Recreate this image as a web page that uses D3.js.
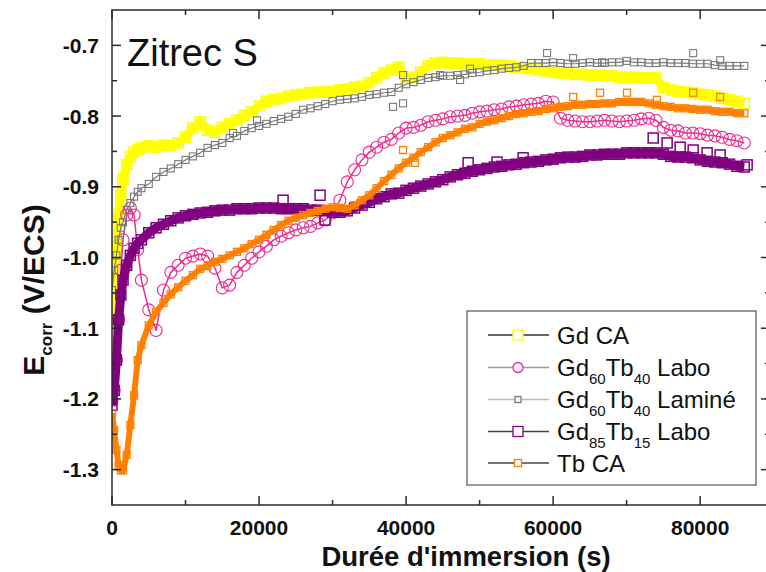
<!DOCTYPE html>
<html><head><meta charset="utf-8">
<script src="https://cdn.jsdelivr.net/npm/d3@7"></script>
<style>body{margin:0;background:#fff;} svg{display:block;font-family:"Liberation Sans",Arial,sans-serif;}</style>
</head><body><svg id="chart" width="766" height="572"></svg>
<script>
// Immersion time (s)
const times = [
  0, 300, 600, 900, 1200, 1500, 2000, 2500, 3000, 3500,
  4000, 5000, 6000, 7000, 8000, 9000, 10000, 11000, 12000, 13000,
  14000, 15000, 16000, 17000, 18000, 19000, 20000, 21000, 22000, 23000,
  24000, 25000, 26000, 27000, 28000, 29000, 30000, 31000, 32000, 33000,
  34000, 35000, 36000, 37000, 38000, 39000, 40000, 41000, 42000, 43000,
  44000, 45000, 46000, 47000, 48000, 49000, 50000, 51000, 52000, 53000,
  54000, 55000, 56000, 57000, 58000, 59000, 60000, 61000, 62000, 63000,
  64000, 65000, 66000, 67000, 68000, 69000, 70000, 71000, 72000, 73000,
  74000, 75000, 76000, 77000, 78000, 79000, 80000, 81000, 82000, 83000,
  84000, 85000, 86000];

// Ecorr (V/ECS)
const gdCA = [
  -1.107,-1.060,-0.989,-0.940,-0.912,-0.890,-0.869,-0.858,-0.851,-0.848,
  -0.845,-0.842,-0.844,-0.841,-0.842,-0.838,-0.830,-0.817,-0.808,-0.820,
  -0.823,-0.816,-0.811,-0.806,-0.799,-0.794,-0.786,-0.779,-0.777,-0.775,
  -0.772,-0.770,-0.769,-0.767,-0.766,-0.766,-0.765,-0.763,-0.762,-0.759,
  -0.758,-0.753,-0.746,-0.739,-0.735,-0.731,-0.746,-0.745,-0.738,-0.729,
  -0.725,-0.724,-0.725,-0.725,-0.726,-0.726,-0.726,-0.728,-0.728,-0.728,
  -0.729,-0.731,-0.732,-0.733,-0.735,-0.736,-0.738,-0.739,-0.739,-0.741,
  -0.741,-0.742,-0.742,-0.743,-0.743,-0.745,-0.745,-0.745,-0.746,-0.746,
  -0.746,-0.760,-0.763,-0.765,-0.766,-0.767,-0.769,-0.770,-0.772,-0.775,
  -0.777,-0.779,-0.782];

const gd60Tb40Labo = [
  -1.202,-1.188,-1.145,-1.088,-1.018,-0.975,-0.940,-0.930,-0.940,-0.989,
  -1.032,-1.074,-1.103,-1.046,-1.021,-1.011,-1.001,-0.998,-0.995,-0.998,
  -1.015,-1.043,-1.039,-1.021,-1.011,-1.001,-0.992,-0.984,-0.975,-0.970,
  -0.965,-0.961,-0.958,-0.956,-0.951,-0.947,-0.937,-0.919,-0.893,-0.876,
  -0.862,-0.851,-0.844,-0.837,-0.833,-0.824,-0.817,-0.816,-0.813,-0.808,
  -0.806,-0.804,-0.801,-0.800,-0.799,-0.796,-0.794,-0.793,-0.791,-0.790,
  -0.787,-0.786,-0.784,-0.783,-0.782,-0.779,-0.780,-0.803,-0.806,-0.807,
  -0.808,-0.808,-0.807,-0.806,-0.807,-0.808,-0.807,-0.806,-0.804,-0.803,
  -0.806,-0.816,-0.820,-0.821,-0.824,-0.824,-0.825,-0.827,-0.828,-0.830,
  -0.833,-0.835,-0.838];

const gd60Tb40Lamine = [
  -1.046,-1.018,-0.997,-0.975,-0.958,-0.950,-0.933,-0.923,-0.914,-0.907,
  -0.902,-0.896,-0.886,-0.879,-0.874,-0.868,-0.862,-0.857,-0.852,-0.845,
  -0.841,-0.838,-0.831,-0.828,-0.821,-0.817,-0.814,-0.811,-0.807,-0.804,
  -0.801,-0.797,-0.791,-0.789,-0.786,-0.783,-0.779,-0.777,-0.776,-0.775,
  -0.773,-0.770,-0.769,-0.767,-0.766,-0.760,-0.755,-0.752,-0.749,-0.746,
  -0.745,-0.743,-0.743,-0.742,-0.741,-0.739,-0.738,-0.736,-0.735,-0.733,
  -0.732,-0.731,-0.729,-0.725,-0.725,-0.725,-0.724,-0.725,-0.726,-0.726,
  -0.725,-0.724,-0.725,-0.725,-0.724,-0.724,-0.722,-0.724,-0.724,-0.725,
  -0.725,-0.724,-0.725,-0.725,-0.725,-0.726,-0.726,-0.726,-0.728,-0.729,
  -0.729,-0.729,-0.729];

const gd85Tb15Labo = [
  -1.209,-1.188,-1.145,-1.088,-1.053,-1.032,-1.011,-0.997,-0.987,-0.980,
  -0.975,-0.965,-0.958,-0.953,-0.948,-0.944,-0.941,-0.939,-0.937,-0.936,
  -0.934,-0.933,-0.933,-0.931,-0.931,-0.931,-0.930,-0.930,-0.930,-0.931,
  -0.931,-0.931,-0.931,-0.933,-0.933,-0.934,-0.936,-0.936,-0.934,-0.930,
  -0.926,-0.922,-0.917,-0.914,-0.910,-0.909,-0.905,-0.902,-0.899,-0.896,
  -0.893,-0.890,-0.886,-0.883,-0.881,-0.878,-0.876,-0.874,-0.872,-0.871,
  -0.869,-0.868,-0.866,-0.865,-0.864,-0.862,-0.861,-0.859,-0.858,-0.858,
  -0.857,-0.855,-0.855,-0.854,-0.854,-0.854,-0.852,-0.852,-0.852,-0.852,
  -0.852,-0.854,-0.857,-0.858,-0.858,-0.859,-0.862,-0.864,-0.865,-0.866,
  -0.868,-0.871,-0.872];

const tbCA = [
  -1.220,-1.244,-1.272,-1.294,-1.301,-1.301,-1.279,-1.237,-1.195,-1.145,
  -1.124,-1.096,-1.077,-1.064,-1.052,-1.042,-1.033,-1.025,-1.016,-1.012,
  -1.006,-1.002,-0.997,-0.992,-0.987,-0.981,-0.975,-0.968,-0.961,-0.954,
  -0.948,-0.944,-0.940,-0.937,-0.934,-0.931,-0.929,-0.930,-0.931,-0.926,
  -0.919,-0.912,-0.902,-0.892,-0.883,-0.874,-0.866,-0.859,-0.851,-0.844,
  -0.837,-0.831,-0.827,-0.823,-0.818,-0.816,-0.811,-0.808,-0.806,-0.803,
  -0.800,-0.797,-0.796,-0.794,-0.793,-0.790,-0.789,-0.787,-0.786,-0.784,
  -0.784,-0.783,-0.783,-0.782,-0.782,-0.780,-0.780,-0.780,-0.780,-0.782,
  -0.784,-0.786,-0.787,-0.789,-0.789,-0.790,-0.791,-0.791,-0.793,-0.794,
  -0.794,-0.796,-0.796];

// Scattered isolated points visible off the main traces
const lamineScatterT = [16460, 19730, 38230, 39590, 39590, 44630, 47350, 48710, 59180, 62720, 66670, 79050, 82720];
const lamineScatterE = [-0.824, -0.806, -0.787, -0.782, -0.742, -0.742, -0.749, -0.733, -0.711, -0.718, -0.724, -0.711, -0.721];
const gd85ScatterT = [23270, 28300, 28980, 48440, 52380, 55920, 73610, 75510, 77280, 79050, 80950, 82720, 86390];
const gd85ScatterE = [-0.919, -0.912, -0.947, -0.866, -0.865, -0.859, -0.831, -0.838, -0.844, -0.848, -0.852, -0.855, -0.869];
const tbScatterT = [39590, 41220, 62720, 66390, 70050, 74130, 79050, 82720];
const tbScatterE = [-0.848, -0.866, -0.773, -0.767, -0.767, -0.777, -0.767, -0.773];

const xTickValues = [0, 20000, 40000, 60000, 80000];
const xTickLabels = ["0", "20000", "40000", "60000", "80000"];
const xMinorTicks = [10000, 30000, 50000, 70000];
const yTickValues = [-1.3, -1.2, -1.1, -1.0, -0.9, -0.8, -0.7];
const yTickLabels = ["-1.3", "-1.2", "-1.1", "-1.0", "-0.9", "-0.8", "-0.7"];
const yMinorTicks = [-1.25, -1.15, -1.05, -0.95, -0.85, -0.75];

const seriesNames = [
  [["Gd", false], [" CA", false]],
  [["Gd", false], ["60", true], ["Tb", false], ["40", true], [" Labo", false]],
  [["Gd", false], ["60", true], ["Tb", false], ["40", true], [" Laminé", false]],
  [["Gd", false], ["85", true], ["Tb", false], ["15", true], [" Labo", false]],
  [["Tb CA", false]]
];

const svg = d3.select("#chart");
const x = d3.scaleLinear().domain([0, 89500]).range([112, 770]);
const y = d3.scaleLinear().domain([-1.35, -0.65]).range([505, 10]);

svg.append("rect").attr("width", 766).attr("height", 572).attr("fill", "#fff");

const series = [
  {vals: gdCA, color: "#ffff00", shape: "square", size: 10, sw: 1.6, lw: 9, legendLine: "#333", legendSize: 10},
  {vals: gd60Tb40Labo, color: "#ef2a8e", shape: "circle", size: 12, sw: 1.1, lw: 1.5, legendLine: "#999", legendSize: 10},
  {vals: gd60Tb40Lamine, color: "#7a7a7a", shape: "square", size: 7, sw: 1.1, lw: 1.2, legendLine: "#bbb", legendSize: 6,
   scT: lamineScatterT, scE: lamineScatterE},
  {vals: gd85Tb15Labo, color: "#800080", shape: "square", size: 10, sw: 1.5, lw: 9, legendLine: "#444", legendSize: 10,
   scT: gd85ScatterT, scE: gd85ScatterE},
  {vals: tbCA, color: "#ff8000", shape: "square", size: 7, sw: 1.3, lw: 6, legendLine: "#444", legendSize: 7,
   scT: tbScatterT, scE: tbScatterE}
];

svg.append("clipPath").attr("id", "clip").append("rect")
  .attr("x", 112).attr("y", 10).attr("width", 658).attr("height", 495);
const plot = svg.append("g").attr("clip-path", "url(#clip)");

function drawSymbols(g, pts, s, size) {
  if (s.shape === "circle") {
    g.selectAll(null).data(pts).join("circle")
      .attr("cx", d => x(d[0])).attr("cy", d => y(d[1])).attr("r", size / 2)
      .attr("fill", "none").attr("stroke", s.color).attr("stroke-width", s.sw);
  } else {
    g.selectAll(null).data(pts).join("rect")
      .attr("x", d => x(d[0]) - size / 2).attr("y", d => y(d[1]) - size / 2)
      .attr("width", size).attr("height", size)
      .attr("fill", "none").attr("stroke", s.color).attr("stroke-width", s.sw);
  }
}

const line = d3.line().x(d => x(d[0])).y(d => y(d[1]));
series.forEach(s => {
  const pts = times.map((t, i) => [t, s.vals[i]]);
  const g = plot.append("g");
  g.append("path").datum(pts).attr("d", line).attr("fill", "none")
    .attr("stroke", s.color).attr("stroke-width", s.lw).attr("stroke-linejoin", "round");
  drawSymbols(g, pts, s, s.size);
  if (s.scT) {
    const sp = s.scT.map((t, i) => [t, s.scE[i]]);
    drawSymbols(g, sp, s, s.size);
  }
});

// Frame
const axisColor = "#2a2a2a";
svg.append("rect").attr("x", 112).attr("y", 10).attr("width", 658).attr("height", 495)
  .attr("fill", "none").attr("stroke", axisColor).attr("stroke-width", 1.5);

const tk = svg.append("g").attr("stroke", axisColor).attr("stroke-width", 1.5);
xTickValues.forEach(v => {
  tk.append("line").attr("x1", x(v)).attr("x2", x(v)).attr("y1", 505).attr("y2", 496);
  tk.append("line").attr("x1", x(v)).attr("x2", x(v)).attr("y1", 10).attr("y2", 19);
});
xMinorTicks.forEach(v => {
  tk.append("line").attr("x1", x(v)).attr("x2", x(v)).attr("y1", 505).attr("y2", 500);
  tk.append("line").attr("x1", x(v)).attr("x2", x(v)).attr("y1", 10).attr("y2", 15);
});
yTickValues.forEach(v => {
  tk.append("line").attr("x1", 112).attr("x2", 121).attr("y1", y(v)).attr("y2", y(v));
  tk.append("line").attr("x1", 770).attr("x2", 761).attr("y1", y(v)).attr("y2", y(v));
});
yMinorTicks.forEach(v => {
  tk.append("line").attr("x1", 112).attr("x2", 117).attr("y1", y(v)).attr("y2", y(v));
  tk.append("line").attr("x1", 770).attr("x2", 765).attr("y1", y(v)).attr("y2", y(v));
});

// Tick labels
const lab = svg.append("g").attr("font-weight", "bold").attr("fill", "#111");
xTickValues.forEach((v, i) => {
  lab.append("text").attr("x", x(v)).attr("y", 535).attr("font-size", 21)
    .attr("text-anchor", "middle").text(xTickLabels[i]);
});
yTickValues.forEach((v, i) => {
  lab.append("text").attr("x", 99).attr("y", y(v) + 7.5).attr("font-size", 21)
    .attr("text-anchor", "end").text(yTickLabels[i]);
});

// Axis titles
svg.append("text").attr("x", 466).attr("y", 566).attr("text-anchor", "middle")
  .attr("font-weight", "bold").attr("font-size", 27.5).attr("fill", "#111")
  .text("Durée d'immersion (s)");

const yt = svg.append("text").attr("transform", "translate(44,290) rotate(-90)")
  .attr("text-anchor", "middle").attr("font-weight", "bold").attr("font-size", 30).attr("fill", "#111");
yt.append("tspan").text("E");
yt.append("tspan").attr("font-size", 17).attr("dy", 8).text("corr");
yt.append("tspan").attr("dy", -8).text(" (V/ECS)");

// Panel title
svg.append("text").attr("x", 127).attr("y", 66).attr("font-size", 38).attr("fill", "#111").text("Zitrec S");

// Legend
const lg = svg.append("g");
lg.append("rect").attr("x", 467).attr("y", 311).attr("width", 289).attr("height", 174)
  .attr("fill", "#fff").attr("stroke", "#555").attr("stroke-width", 1.2);
const rowY = [335, 367.5, 399.5, 431.5, 463];
series.forEach((s, i) => {
  const cy = rowY[i];
  lg.append("line").attr("x1", 488).attr("x2", 549).attr("y1", cy).attr("y2", cy)
    .attr("stroke", s.legendLine).attr("stroke-width", 1.3);
  const sz = s.legendSize;
  if (s.shape === "circle") {
    lg.append("circle").attr("cx", 518).attr("cy", cy).attr("r", sz / 2)
      .attr("fill", "#fff").attr("stroke", s.color).attr("stroke-width", 1.3);
  } else {
    lg.append("rect").attr("x", 518 - sz / 2).attr("y", cy - sz / 2).attr("width", sz).attr("height", sz)
      .attr("fill", "#fff").attr("stroke", s.color).attr("stroke-width", 1.3);
  }
  const t = lg.append("text").attr("x", 557).attr("y", cy + 8.5).attr("font-size", 24).attr("fill", "#111");
  let sub = false;
  seriesNames[i].forEach(([txt, isSub]) => {
    const ts = t.append("tspan").text(txt);
    if (isSub && !sub) { ts.attr("font-size", 15).attr("dy", 8); sub = true; }
    else if (!isSub && sub) { ts.attr("dy", -8); sub = false; }
    else if (isSub) { ts.attr("font-size", 15); }
  });
});
</script>
</body></html>
